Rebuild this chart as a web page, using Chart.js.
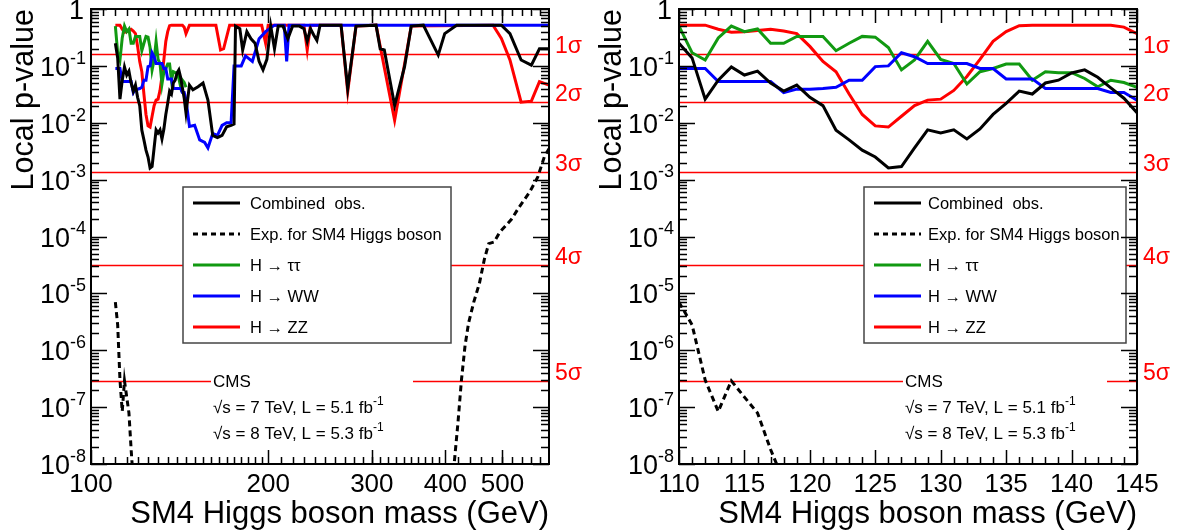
<!DOCTYPE html>
<html>
<head>
<meta charset="utf-8">
<script src="https://cdn.jsdelivr.net/npm/chart.js@4.4.1/dist/chart.umd.min.js"></script>
<style>
  html, body { margin: 0; padding: 0; background: #fff; }
  #wrap { position: relative; width: 1180px; height: 532px; }
  canvas { position: absolute; top: 0; }
</style>
</head>
<body>
<div id="wrap">
  <canvas id="fullRange" width="590" height="532" style="left:0"></canvas>
  <canvas id="lowMass" width="590" height="532" style="left:590px"></canvas>
</div>
<script>
// ---- data (local p-values) ----
const massFine = [110,111,112,113,114,115,116,117,118,119,120,121,122,123,124,125,126,127,
                  128,129,130,131,132,133,134,135,136,137,138,139,140,141,142,143,144,145];
const combFine = [0.25,0.138,0.026,0.056,0.096,0.069,0.081,0.05,0.036,0.046,0.028,0.02,0.0074,0.005,
                  0.0033,0.0025,0.0016,0.0017,0.0036,0.0075,0.0066,0.0075,0.0052,0.0078,0.014,0.022,
                  0.036,0.032,0.05,0.056,0.075,0.085,0.063,0.041,0.027,0.015];
const ttFine   = [0.50,0.17,0.127,0.31,0.50,0.40,0.445,0.25,0.25,0.33,0.33,0.33,0.185,0.25,0.33,0.32,
                  0.21,0.085,0.127,0.27,0.13,0.11,0.048,0.079,0.09,0.108,0.108,0.056,0.079,0.076,0.076,
                  0.06,0.043,0.056,0.051,0.042];
const wwFine   = [0.09,0.09,0.09,0.053,0.053,0.053,0.053,0.053,0.034,0.039,0.039,0.04,0.042,0.056,0.056,
                  0.097,0.1,0.17,0.145,0.11,0.11,0.11,0.11,0.09,0.09,0.059,0.059,0.059,0.04,0.04,0.04,
                  0.04,0.04,0.034,0.034,0.025];
const zzFine   = [0.52,0.52,0.52,0.44,0.39,0.40,0.42,0.44,0.41,0.37,0.22,0.12,0.079,0.032,0.014,0.0088,
                  0.0084,0.013,0.02,0.025,0.026,0.037,0.065,0.13,0.27,0.40,0.51,0.52,0.52,0.52,0.52,
                  0.52,0.52,0.52,0.48,0.37];
const massExpFine = [110,111,112,113,114,115,116,117,118];
const expFine     = [7e-6,2.8e-6,3e-7,8.4e-8,2.9e-7,1.5e-7,7.9e-8,1.8e-8,5e-9];

// wide range (left panel only, above 145 GeV)
const massCombWide = [147,149,152,155,158,161,164,167,170,173,175,176,179,181,184,187,190,193,196,199,
                      202,205,208,212,216,220,226,230,233,236,239,242,245,266,273,282,305,310,315,328,
                      341,350,367,389,399,418,498,515,538,560,578,600];
const combWide     = [0.046,0.038,0.043,0.05,0.025,0.006,0.0055,0.006,0.0085,0.009,0.0095,0.5,0.45,0.19,
                      0.4,0.3,0.25,0.12,0.085,0.13,0.5,0.2,0.5,0.5,0.3,0.5,0.5,0.45,0.27,0.45,0.35,0.28,
                      0.52,0.52,0.04,0.5,0.52,0.2,0.19,0.02,0.097,0.5,0.52,0.155,0.37,0.52,0.52,0.37,
                      0.127,0.103,0.2,0.2];
const massWWWide = [147,150,153,156,158,161,164,167,170,173,175,180,183,188,193,198,205,213,215,217,600];
const wwWide     = [0.0086,0.009,0.005,0.0045,0.0036,0.0065,0.006,0.009,0.01,0.01,0.1,0.1,0.15,0.12,
                    0.3,0.4,0.52,0.52,0.12,0.52,0.52];
const massZZWide = [147,163,166,168,172,195,198,200,230,233,236,266,273,282,305,328,350,482,498,515,
                    538,560,578,600];
const zzWide     = [0.52,0.52,0.19,0.2,0.52,0.52,0.25,0.52,0.52,0.19,0.52,0.52,0.035,0.5,0.52,0.011,
                    0.5,0.52,0.305,0.127,0.023,0.024,0.053,0.046];
const massExpWide = [405,414,420,426,432,438,447,457,466,474,484,495,505,518,534,556,574,589,600];
const expWide     = [2e-9,1e-8,5e-8,3e-7,1.2e-6,3e-6,7e-6,1.5e-5,4e-5,7.5e-5,8e-5,1.2e-4,1.5e-4,2e-4,
                     3.3e-4,6e-4,1.1e-3,2.5e-3,3.5e-3];

// significance reference levels
const sigmaP = [0.1587, 0.02275, 0.00135, 3.17e-5, 2.87e-7];
const sigmaLabels = ['1σ', '2σ', '3σ', '4σ', '5σ'];

// labels
const seriesNames = ['Combined  obs.', 'Exp. for SM4 Higgs boson', 'H → ττ', 'H → WW', 'H → ZZ'];
const seriesColors = ['#000000', '#000000', '#119911', '#0000ff', '#ff0000'];
const cmsLines = ['CMS', '√s = 7 TeV, L = 5.1 fb', '√s = 8 TeV, L = 5.3 fb'];
const cmsSup = ['', '-1', '-1'];
const yDecades = [0, -1, -2, -3, -4, -5, -6, -7, -8];
const xLabelsWide = [100, 200, 300, 400, 500];
const xLabelsFine = [110, 115, 120, 125, 130, 135, 140, 145];
const xTitle = 'SM4 Higgs boson mass (GeV)';
const yTitle = 'Local p-value';

const FONT = '"Liberation Sans", Arial, Helvetica, sans-serif';

function pts(xs, ys) {
    return xs.map((x, i) => ({ x: x, y: ys[i] }));
}

// text with a raised superscript
function supText(ctx, base, sup, x, y, size, supSize, align) {
    ctx.font = size + 'px ' + FONT;
    const w1 = ctx.measureText(base).width;
    ctx.font = supSize + 'px ' + FONT;
    const w2 = sup ? ctx.measureText(sup).width : 0;
    let x0 = align === 'right' ? x - w1 - w2 : x;
    ctx.textAlign = 'left';
    ctx.font = size + 'px ' + FONT;
    ctx.fillText(base, x0, y);
    if (sup) {
        ctx.font = supSize + 'px ' + FONT;
        ctx.fillText(sup, x0 + w1, y - size * 0.45);
    }
}

/**
 * ROOT-like frame: inner ticks, sigma lines, legend and CMS box
 */
const rootStyle = {
    id: 'rootStyle',
    beforeDatasetsDraw(chart) {
        const { ctx, chartArea: a, scales: { y } } = chart;
        ctx.save();
        ctx.strokeStyle = '#ff0000';
        ctx.lineWidth = 1.5;
        sigmaP.forEach(p => {
            const py = Math.round(y.getPixelForValue(p)) + 0.5;
            ctx.beginPath();
            ctx.moveTo(a.left, py);
            ctx.lineTo(a.right, py);
            ctx.stroke();
        });
        ctx.restore();
    },
    afterDatasetsDraw(chart, args, o) {
        const { ctx, chartArea: a, scales: { y } } = chart;
        ctx.save();

        // CMS text box (white, no border)
        const cb = o.cmsBox;
        ctx.fillStyle = '#fff';
        ctx.fillRect(cb.left, cb.top, cb.right - cb.left, cb.bottom - cb.top);
        ctx.fillStyle = '#000';
        ctx.textBaseline = 'alphabetic';
        cmsLines.forEach((t, i) => {
            supText(ctx, t, cmsSup[i], cb.left + 2, cb.top + 21 + i * 26, 17, 12, 'left');
        });

        // legend
        const lb = o.legendBox;
        ctx.fillStyle = '#fff';
        ctx.fillRect(lb.left, lb.top, lb.right - lb.left, lb.bottom - lb.top);
        ctx.strokeStyle = '#444';
        ctx.lineWidth = 1.5;
        ctx.strokeRect(lb.left, lb.top, lb.right - lb.left, lb.bottom - lb.top);
        seriesNames.forEach((name, i) => {
            const ry = lb.top + 16 + i * 31;
            ctx.strokeStyle = seriesColors[i];
            ctx.lineWidth = 3;
            ctx.setLineDash(i === 1 ? [5, 4] : []);
            ctx.beginPath();
            ctx.moveTo(lb.left + 10, ry);
            ctx.lineTo(lb.left + 57, ry);
            ctx.stroke();
            ctx.setLineDash([]);
            ctx.fillStyle = '#000';
            ctx.font = '16.5px ' + FONT;
            ctx.textAlign = 'left';
            ctx.fillText(name, lb.left + o.legendTextDx, ry + 6);
        });

        // sigma labels
        ctx.fillStyle = '#ff0000';
        ctx.font = '23px ' + FONT;
        ctx.textAlign = 'left';
        sigmaP.forEach((p, i) => {
            ctx.fillText(sigmaLabels[i], a.right + 6, y.getPixelForValue(p) - 1);
        });
        ctx.restore();
    },
    afterDraw(chart, args, o) {
        const { ctx, chartArea: a, scales: { x, y } } = chart;
        ctx.save();
        ctx.strokeStyle = '#000';
        ctx.lineWidth = 1.5;
        const tickY = (v, len) => {
            const py = Math.round(y.getPixelForValue(v)) + 0.5;
            ctx.beginPath();
            ctx.moveTo(a.left, py); ctx.lineTo(a.left + len, py);
            ctx.moveTo(a.right, py); ctx.lineTo(a.right - len, py);
            ctx.stroke();
        };
        const tickX = (v, len) => {
            const px = Math.round(x.getPixelForValue(v)) + 0.5;
            ctx.beginPath();
            ctx.moveTo(px, a.bottom); ctx.lineTo(px, a.bottom - len);
            ctx.moveTo(px, a.top); ctx.lineTo(px, a.top + len);
            ctx.stroke();
        };
        yDecades.forEach(d => {
            tickY(Math.pow(10, d), 16);
            if (d > -8) {
                for (let k = 2; k <= 9; k++) tickY(k * Math.pow(10, d - 1), 8);
            }
        });
        o.xMinor.forEach(v => tickX(v, 7));
        o.xLabels.forEach(v => tickX(v, 14));

        // frame
        ctx.lineWidth = 2;
        ctx.strokeRect(a.left, a.top, a.right - a.left, a.bottom - a.top);

        // y tick labels
        ctx.fillStyle = '#000';
        ctx.textBaseline = 'alphabetic';
        yDecades.forEach(d => {
            const py = y.getPixelForValue(Math.pow(10, d));
            if (d === 0) supText(ctx, '1', '', a.left - 7, py + 10, 27, 18, 'right');
            else supText(ctx, '10', String(d), a.left - 5, py + 10, 27, 18, 'right');
        });

        // x tick labels
        ctx.font = '26px ' + FONT;
        ctx.textAlign = 'center';
        o.xLabels.forEach(v => {
            ctx.fillText(String(v), x.getPixelForValue(v), a.bottom + 28);
        });

        // axis titles
        ctx.font = '31px ' + FONT;
        ctx.textAlign = 'right';
        ctx.fillText(xTitle, a.right, a.bottom + 59);
        ctx.save();
        ctx.translate(o.yTitleX, a.top);
        ctx.rotate(-Math.PI / 2);
        ctx.font = '30.5px ' + FONT;
        ctx.textAlign = 'right';
        ctx.fillText(yTitle, 0, 0);
        ctx.restore();
        ctx.restore();
    }
};

function makeDatasets(comb, exp, tt, ww, zz) {
    const base = { pointRadius: 0, borderWidth: 3, fill: false, tension: 0, clip: 0 };
    // first dataset is drawn on top
    return [
        Object.assign({ label: seriesNames[0], data: comb, borderColor: seriesColors[0] }, base),
        Object.assign({ label: seriesNames[1], data: exp, borderColor: seriesColors[1], borderDash: [6, 4] }, base),
        Object.assign({ label: seriesNames[3], data: ww, borderColor: seriesColors[3] }, base),
        Object.assign({ label: seriesNames[2], data: tt, borderColor: seriesColors[2] }, base),
        Object.assign({ label: seriesNames[4], data: zz, borderColor: seriesColors[4] }, base)
    ];
}

function makeChart(id, xScale, datasets, padding, style) {
    const ctx = document.getElementById(id).getContext('2d');
    return new Chart(ctx, {
        type: 'line',
        data: { datasets: datasets },
        options: {
            responsive: false,
            animation: false,
            devicePixelRatio: 1,
            layout: { padding: padding },
            plugins: {
                legend: { display: false },
                tooltip: { enabled: false },
                rootStyle: style
            },
            scales: {
                x: Object.assign({ display: false }, xScale),
                y: { type: 'logarithmic', min: 1e-8, max: 1, display: false }
            }
        },
        plugins: [rootStyle]
    });
}

// minor tick positions on the mass axes
const minorWide = [];
for (let m = 105; m < 200; m += 5) minorWide.push(m);
for (let m = 210; m < 400; m += 10) minorWide.push(m);
for (let m = 420; m < 600; m += 20) minorWide.push(m);
const minorFine = [];
for (let m = 111; m < 145; m++) if (m % 5) minorFine.push(m);

// left panel: 100 - 600 GeV, log mass axis
makeChart('fullRange',
    { type: 'logarithmic', min: 100, max: 600 },
    makeDatasets(
        pts(massFine.concat(massCombWide), combFine.concat(combWide)),
        pts(massExpFine.concat(massExpWide), expFine.concat(expWide)),
        pts(massFine, ttFine),
        pts(massFine.concat(massWWWide), wwFine.concat(wwWide)),
        pts(massFine.concat(massZZWide), zzFine.concat(zzWide))
    ),
    { left: 91, right: 41, top: 9, bottom: 68 },
    {
        xLabels: xLabelsWide, xMinor: minorWide, yTitleX: 33, legendTextDx: 67,
        legendBox: { left: 183, top: 187, right: 451, bottom: 343 },
        cmsBox: { left: 211, top: 366, right: 413, bottom: 448 }
    });

// right panel: 110 - 145 GeV, linear mass axis
makeChart('lowMass',
    { type: 'linear', min: 110, max: 145 },
    makeDatasets(
        pts(massFine, combFine),
        pts(massExpFine, expFine),
        pts(massFine, ttFine),
        pts(massFine, wwFine),
        pts(massFine, zzFine)
    ),
    { left: 89, right: 43, top: 9, bottom: 68 },
    {
        xLabels: xLabelsFine, xMinor: minorFine, yTitleX: 31, legendTextDx: 64,
        legendBox: { left: 274, top: 187, right: 536, bottom: 343 },
        cmsBox: { left: 313, top: 366, right: 517, bottom: 448 }
    });
</script>
</body>
</html>
